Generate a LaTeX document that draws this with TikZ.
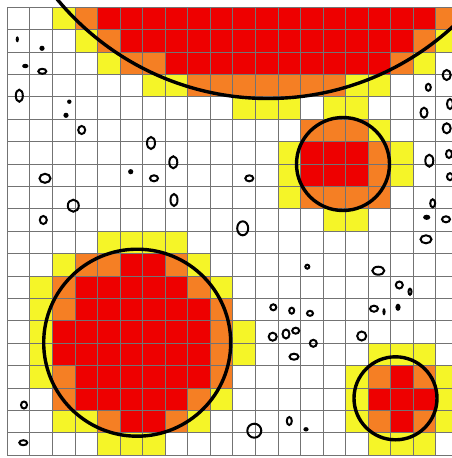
\documentclass[tikz,border=0pt]{standalone}
\usepackage{tikz}
\definecolor{cred}{RGB}{238,0,0}
\definecolor{corange}{RGB}{245,127,36}
\definecolor{cyellow}{RGB}{245,245,40}
\tikzset{
  gridline/.style={draw=black!55, line width=0.9pt},
  bigc/.style={draw=black, line width=3.4pt},
  obs/.style={draw=black, line width=2pt},
  obsf/.style={fill=black},
}
\newcommand{\cellfill}[3]{\fill[#3] ({7.3+22.56*#1},{7.3+22.4*#2}) rectangle ({7.3+22.56*(#1+1)},{7.3+22.4*(#2+1)});}
\begin{document}
\begin{tikzpicture}[x=1pt,y=-1pt]
\useasboundingbox (0,0) rectangle (452,458);
\fill[white] (0,0) rectangle (452,458);
\begin{scope}
\clip (0,0) rectangle (452,458);
% ---- red cells
\foreach \c/\r in {4/0,5/0,6/0,7/0,8/0,9/0,10/0,11/0,12/0,13/0,14/0,15/0,16/0,17/0,18/0,
  5/1,6/1,7/1,8/1,9/1,10/1,11/1,12/1,13/1,14/1,15/1,16/1,17/1,
  7/2,8/2,9/2,10/2,11/2,12/2,13/2,14/2,15/2,16/2,
  13/6,14/6,15/6,13/7,14/7,15/7,
  5/11,6/11,
  3/12,4/12,5/12,6/12,7/12,
  3/13,4/13,5/13,6/13,7/13,8/13,
  2/14,3/14,4/14,5/14,6/14,7/14,8/14,
  2/15,3/15,4/15,5/15,6/15,7/15,8/15,
  3/16,4/16,5/16,6/16,7/16,8/16,
  3/17,4/17,5/17,6/17,7/17,
  5/18,6/18,
  17/16,16/17,17/17,18/17,17/18}
  {\cellfill{\c}{\r}{cred}}
% ---- orange cells
\foreach \c/\r in {3/0,19/0,4/1,18/1,5/2,6/2,17/2,
  8/3,9/3,10/3,11/3,12/3,13/3,14/3,
  13/5,14/5,15/5,16/6,16/7,13/8,14/8,15/8,16/8,
  3/11,4/11,7/11,2/12,8/12,2/13,9/13,9/14,9/15,2/16,9/16,2/17,8/17,4/18,7/18,
  16/16,18/16,16/18,18/18}
  {\cellfill{\c}{\r}{corange}}
% ---- yellow cells
\foreach \c/\r in {2/0,3/1,19/1,4/2,18/2,6/3,7/3,15/3,16/3,10/4,11/4,12/4,
  14/4,15/4,16/5,12/6,17/6,12/7,17/7,12/8,14/9,15/9,
  4/10,5/10,6/10,7/10,2/11,8/11,1/12,9/12,1/13,1/14,10/14,1/15,10/15,1/16,9/17,
  2/18,3/18,8/18,4/19,5/19,6/19,
  16/15,17/15,18/15,15/16,19/16,15/17,19/17,15/18,19/18,16/19,17/19,18/19}
  {\cellfill{\c}{\r}{cyellow}}
% ---- grid
\foreach \k in {0,...,19} \draw[gridline] ({7.3+22.56*\k},7.3) -- ({7.3+22.56*\k},455.3);
\foreach \k in {0,...,20} \draw[gridline] (7.3,{7.3+22.4*\k}) -- (452,{7.3+22.4*\k});
% ---- big circles
\draw[bigc] (268,-175) circle[radius=273.5];
\draw[bigc] (343,164) circle[radius=46.5];
\draw[bigc] (137.2,342.7) circle[radius=93.5];
\draw[bigc] (395.5,398.3) circle[radius=41.5];
% ---- filled obstacles
\foreach \x/\y/\a/\b in {17.3/39.3/1.6/3, 42/48.3/2.6/2.6, 25.3/66/3.2/2.2, 69.3/101.7/2.2/2.2,
  66/115.3/2.6/2.6, 130.7/171.7/2.6/2.6, 426.7/217.3/3.6/2.6, 398/307.3/2.6/3.6,
  306/429.3/2.6/2.2, 384/311.7/1.6/3.6}
  {\fill[obsf] (\x,\y) ellipse[x radius=\a, y radius=\b];}
% ---- outlined obstacles
\foreach \x/\y/\a/\b in {42.3/71.3/4/2.5, 19.3/95.7/3.5/6, 81.7/130/3.5/4, 151/143/4/6,
  446.7/75/4/5, 428.3/87.3/2.5/3.5, 424/112.7/3.5/5, 450/104/3/5, 446.7/128.3/4/5,
  45/178.3/5.5/4.5, 73.3/205.7/5.5/6, 43.3/220/3.5/4, 173.3/162.3/4/6, 154/178.3/4/3,
  249.3/178.3/4/3, 174/200/3.5/6, 242.7/228.3/5.5/7, 429.3/160.7/4/6, 449/154/3/4,
  450/176.7/3/3.5, 432.7/203.3/2.5/4, 446/219.3/4/3, 426/239.3/5.5/4, 307.3/266.7/2/2,
  378.3/270.7/6/4, 399.3/285/3.5/3.5, 410/291.7/1.5/3, 24/405/3/3.5, 23.3/442.7/4/2.5,
  273.3/307.3/3/3, 291.7/310.7/2.5/3, 272.7/336.7/4/4, 286/334/3.5/4.5, 295.7/330.7/3.5/3,
  294/356.7/4.5/3, 254.3/430.7/7/7, 289.3/421/2.5/4, 310/313.3/3/2.5, 374/308.7/4/3,
  361.7/336/4.5/4.5, 313.3/343.3/3.5/3.5}
  {\draw[obs] (\x,\y) ellipse[x radius=\a, y radius=\b];}
\end{scope}
\end{tikzpicture}
\end{document}
